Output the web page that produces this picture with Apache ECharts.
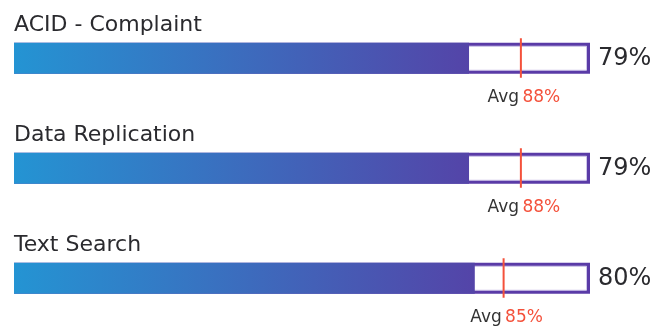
<!DOCTYPE html>
<html>
<head>
<meta charset="utf-8">
<script src="https://cdn.jsdelivr.net/npm/echarts@6/dist/echarts.min.js"></script>
<style>
html,body{margin:0;padding:0;background:#fff;}
#chart{width:670px;height:327px;}
</style>
</head>
<body>
<div id="chart"></div>
<script>
var categories = ['ACID - Complaint', 'Data Replication', 'Text Search'];
var values = [79, 79, 80];
var averages = [88, 88, 85];

var chart = echarts.init(document.getElementById('chart'), null, {renderer: 'canvas'});
var FONT = '"DejaVu Sans", "Noto Sans", sans-serif';

var data = categories.map(function (c, i) { return [values[i], i, averages[i]]; });

function renderItem(params, api) {
  var idx = api.value(1);
  var val = api.value(0);
  var avg = api.value(2);
  var p0 = api.coord([0, idx]);
  var p100 = api.coord([100, idx]);
  var pv = api.coord([val, idx]);
  var pa = api.coord([avg, idx]);
  var cy = p0[1];
  var h = 31;
  var top = cy - h / 2;
  var b = 3.5;
  return {
    type: 'group',
    children: [
      { type: 'rect', shape: {x: p0[0], y: top, width: p100[0] - p0[0], height: h}, style: {fill: '#5a3ba7'} },
      { type: 'rect', shape: {x: p0[0] + b, y: top + b, width: p100[0] - p0[0] - 2 * b, height: h - 2 * b}, style: {fill: '#ffffff', stroke: '#cfc7ea', lineWidth: 1} },
      { type: 'rect', shape: {x: p0[0], y: top, width: pv[0] - p0[0], height: h},
        style: {fill: new echarts.graphic.LinearGradient(0, 0, 1, 0, [
          {offset: 0, color: '#2494d3'}, {offset: 1, color: '#5444a8'}])} },
      { type: 'line', shape: {x1: pa[0], y1: cy - 20, x2: pa[0], y2: cy + 19.5}, style: {stroke: '#f4513b', lineWidth: 2} },
      { type: 'text', x: p0[0], y: cy - 21.5,
        style: {text: categories[idx], font: '400 22px ' + FONT, fill: '#2a2a2e', textAlign: 'left', textVerticalAlign: 'bottom'} },
      { type: 'text', x: p100[0] + 8, y: cy + 1,
        style: {text: val + '%', font: '400 24px ' + FONT, fill: '#2a2a2e', textAlign: 'left', textVerticalAlign: 'middle'} },
      { type: 'text', x: pa[0] + 3, y: cy + 39.5,
        style: {text: '{a|Avg} {b|' + avg + '%}', textAlign: 'center', textVerticalAlign: 'middle',
          rich: {a: {font: '400 17px ' + FONT, fill: '#333333'}, b: {font: '400 17px ' + FONT, fill: '#f4513b'}}} }
    ]
  };
}

chart.setOption({
  animation: false,
  grid: {left: 14, right: 80, top: 0, bottom: 0, containLabel: false},
  xAxis: {type: 'value', min: 0, max: 100, show: false},
  yAxis: {type: 'value', inverse: true, min: -0.5295, max: 2.4432, show: false},
  series: [{type: 'custom', renderItem: renderItem, data: data, clip: false}]
});
</script>
</body>
</html>
